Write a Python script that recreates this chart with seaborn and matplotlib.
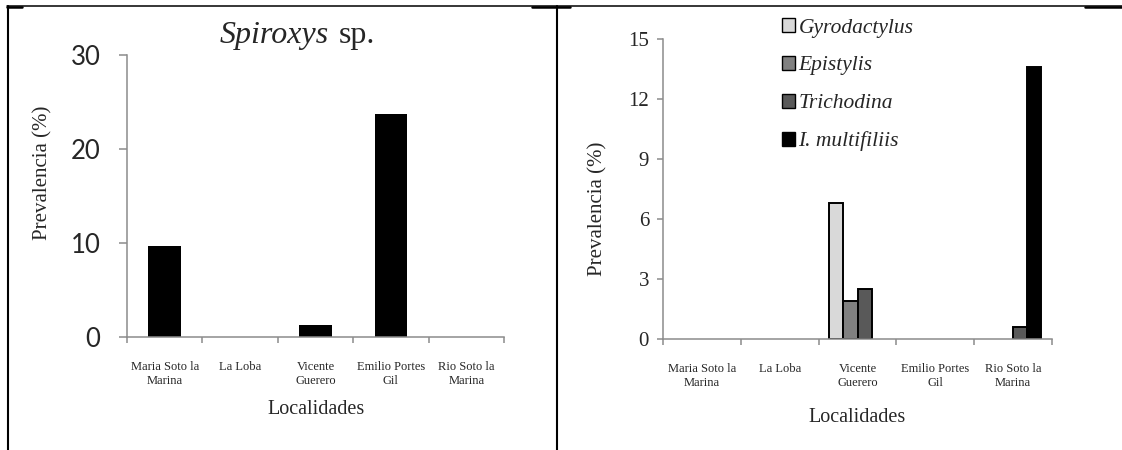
import numpy as np
import pandas as pd
import matplotlib
matplotlib.use('Agg')
import matplotlib.pyplot as plt
import seaborn as sns
from matplotlib.patches import Patch
from matplotlib.lines import Line2D
from matplotlib.font_manager import FontProperties

# ---------------- data ----------------
localidades = ["Maria Soto la\nMarina", "La Loba", "Vicente\nGuerero",
               "Emilio Portes\nGil", "Rio Soto la\nMarina"]
spiroxys = [9.7, 0.0, 1.3, 23.7, 0.0]

species = ["Gyrodactylus", "Epistylis", "Trichodina", "I. multifiliis"]
gyrodactylus = [0.0, 0.0, 6.8, 0.0, 0.0]
epistylis = [0.0, 0.0, 1.9, 0.0, 0.0]
trichodina = [0.0, 0.0, 2.5, 0.0, 0.6]
multifiliis = [0.0, 0.0, 0.0, 0.0, 13.6]
species_colors = ["#D9D9D9", "#808080", "#595959", "#000000"]

left_yticks = [0, 10, 20, 30]
right_yticks = [0, 3, 6, 9, 12, 15]

# ---------------- style ----------------
sns.set_theme(style='white')
plt.rcParams['font.family'] = ['Liberation Serif', 'DejaVu Sans']
GRAY = '#8c8c8c'
SERIF = 'Liberation Serif'

W, H = 1122, 450
fig = plt.figure(figsize=(W / 100, H / 100), dpi=100)


def fx(px):
    return px / W


def fy(py):
    return 1 - py / H


# ---------------- left panel ----------------
ax1 = fig.add_axes([fx(127), fy(337), (504 - 127) / W, (337 - 55) / H])
df1 = pd.DataFrame({'loc': localidades, 'val': spiroxys})
sns.barplot(data=df1, x='loc', y='val', order=localidades, color='black',
            saturation=1, width=0.43, edgecolor='black', linewidth=0, ax=ax1)
ax1.set_ylim(0, 30)

# ---------------- right panel ----------------
ax2 = fig.add_axes([fx(663), fy(339), (1052 - 663) / W, (339 - 39) / H])
series = [gyrodactylus, epistylis, trichodina, multifiliis]
rows = []
for sp, vals in zip(species, series):
    for loc, v in zip(localidades, vals):
        rows.append({'loc': loc, 'val': v, 'species': sp})
df2 = pd.DataFrame(rows)
sns.barplot(data=df2, x='loc', y='val', hue='species', order=localidades,
            hue_order=species, palette=species_colors, saturation=1,
            width=0.72, edgecolor='black', linewidth=1.4, legend=False, ax=ax2)
for p in ax2.patches:
    if p.get_height() == 0:
        p.set_linewidth(0)
ax2.set_ylim(0, 15)

# ---------------- axes styling ----------------
for ax in (ax1, ax2):
    sns.despine(ax=ax)
    for s in ('left', 'bottom'):
        ax.spines[s].set_color(GRAY)
        ax.spines[s].set_linewidth(1.1)
    ax.set_xlim(-0.5, 4.5)
    ax.set_xticks(range(len(localidades)))
    ax.set_xticklabels(localidades, fontsize=9, fontfamily=SERIF, linespacing=1.15)
    ax.set_xticks(np.arange(-0.5, len(localidades), 1), minor=True)
    ax.tick_params(axis='x', which='major', bottom=True, length=0, pad=17.5)
    ax.tick_params(axis='x', which='minor', bottom=True, length=4, width=1.1,
                   color=GRAY, direction='out')
    ax.set_xlabel('')
    ax.set_ylabel('')

ax1.set_yticks(left_yticks)
ax1.set_yticklabels([str(v) for v in left_yticks], fontsize=18.5, fontfamily='Lato')
ax1.tick_params(axis='y', left=True, length=6, width=1.1, color=GRAY,
                direction='out', pad=13)
ax2.set_yticks(right_yticks)
ax2.set_yticklabels([str(v) for v in right_yticks], fontsize=15, fontfamily=SERIF)
ax2.tick_params(axis='y', left=True, length=4, width=1.1, color=GRAY,
                direction='out', pad=6)

# axis labels
fig.text(fx(43), fy(173), 'Prevalencia (%)', rotation=90, ha='center',
         va='center', fontsize=15, fontfamily=SERIF)
fig.text(fx(598), fy(209), 'Prevalencia (%)', rotation=90, ha='center',
         va='center', fontsize=15, fontfamily=SERIF)
fig.text(fx(316), fy(410), 'Localidades', ha='center', va='center',
         fontsize=14.5, fontfamily=SERIF)
fig.text(fx(857), fy(418), 'Localidades', ha='center', va='center',
         fontsize=14.5, fontfamily=SERIF)

# title
fig.text(fx(329), fy(43), 'Spiroxys', style='italic', ha='right',
         va='baseline', fontsize=23, fontfamily=SERIF)
fig.text(fx(339), fy(43), 'sp.', ha='left', va='baseline', fontsize=23,
         fontfamily=SERIF)

# legend
handles = [Patch(facecolor=c, edgecolor='black', linewidth=1.0, label=s)
           for s, c in zip(species, species_colors)]
ax2.legend(handles=handles, loc='upper left', bbox_to_anchor=(fx(782), fy(18)),
           bbox_transform=fig.transFigure, frameon=False,
           prop=FontProperties(family=SERIF, style='italic', size=15.5),
           handlelength=0.62, handleheight=0.62, handletextpad=0.15,
           labelspacing=0.85, borderpad=0, borderaxespad=0)

# table borders
fig.add_artist(Line2D([fx(7), fx(1122)], [fy(6), fy(6)], color='black', lw=1.1))
for x0, x1 in [(7, 22), (532, 570), (1085, 1122)]:
    fig.add_artist(Line2D([fx(x0), fx(x1)], [fy(7), fy(7)], color='black', lw=1.8))
fig.add_artist(Line2D([fx(8), fx(8)], [fy(6), fy(450)], color='black', lw=1.5))
fig.add_artist(Line2D([fx(557), fx(557)], [fy(6), fy(450)], color='black', lw=1.5))

fig.savefig('out.png', dpi=100)
